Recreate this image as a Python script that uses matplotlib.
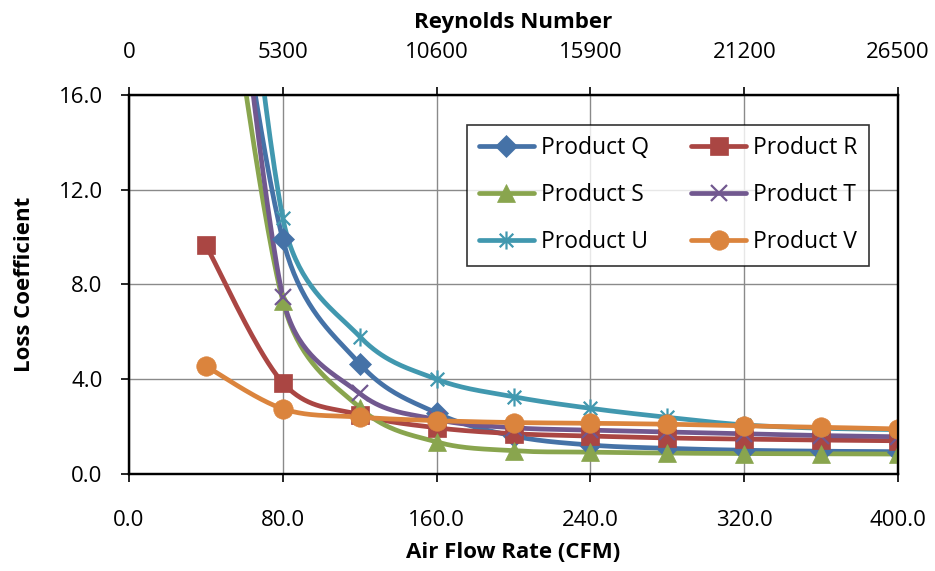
import numpy as np
import matplotlib
matplotlib.use("Agg")
import matplotlib.pyplot as plt
from matplotlib.path import Path
from matplotlib.ticker import FormatStrFormatter

plt.rcParams['font.family'] = ['Open Sans', 'DejaVu Sans']

# Air flow rate (CFM) and loss coefficients per product
flow = [40, 80, 120, 160, 200, 240, 280, 320, 360, 400]
product_q = [30.0, 9.9, 4.65, 2.57, 1.6, 1.22, 1.08, 1.0, 0.96, 0.94]
product_r = [9.65, 3.85, 2.5, 1.95, 1.7, 1.6, 1.52, 1.47, 1.43, 1.4]
product_s = [28.0, 7.3, 2.8, 1.35, 0.98, 0.92, 0.88, 0.86, 0.85, 0.84]
product_t = [34.0, 7.45, 3.4, 2.3, 1.95, 1.85, 1.77, 1.69, 1.62, 1.57]
product_u = [39.0, 10.8, 5.8, 4.0, 3.26, 2.77, 2.39, 2.07, 1.93, 1.87]
product_v = [4.55, 2.75, 2.4, 2.25, 2.17, 2.14, 2.1, 2.03, 1.97, 1.9]

series_names = ["Product Q", "Product R", "Product S", "Product T", "Product U", "Product V"]
x_ticks = [0, 80, 160, 240, 320, 400]
y_ticks = [0, 4, 8, 12, 16]
reynolds_ticks = [0, 5300, 10600, 15900, 21200, 26500]

colors = ["#4572A7", "#AA4643", "#89A54E", "#71588F", "#4198AF", "#DB843D"]

# asterisk marker: vertical stroke plus two diagonals
_d = 0.75
asterisk = Path([(0, -1), (0, 1), (-_d, -_d), (_d, _d), (-_d, _d), (_d, -_d)],
                [Path.MOVETO, Path.LINETO, Path.MOVETO, Path.LINETO,
                 Path.MOVETO, Path.LINETO])
markers = ["D", "s", "^", "x", asterisk, "o"]
msizes = [11, 13, 13, 12, 13, 14]

FS = 16


def smooth_curve(ax, xs, ys, n=40, tension=1.0 / 6.0):
    """Smoothed Bezier path through the points, built in display space."""
    P = ax.transData.transform(np.column_stack([xs, ys]).astype(float))
    out = []
    t = np.linspace(0, 1, n)[:, None]
    for i in range(len(P) - 1):
        p0 = P[i - 1] if i > 0 else P[i]
        p1, p2 = P[i], P[i + 1]
        p3 = P[i + 2] if i + 2 < len(P) else P[i + 1]
        d12 = np.hypot(*(p2 - p1))
        d02 = np.hypot(*(p2 - p0))
        d13 = np.hypot(*(p3 - p1))
        f1 = tension if d02 * tension < d12 / 2 else d12 / (2 * d02)
        f2 = tension if d13 * tension < d12 / 2 else d12 / (2 * d13)
        c1 = p1 + (p2 - p0) * f1
        c2 = p2 - (p3 - p1) * f2
        seg = ((1 - t) ** 3) * p1 + 3 * ((1 - t) ** 2) * t * c1 \
            + 3 * (1 - t) * t ** 2 * c2 + t ** 3 * p2
        out.append(seg if i == 0 else seg[1:])
    pts = ax.transData.inverted().transform(np.vstack(out))
    return pts[:, 0], pts[:, 1]


fig = plt.figure(figsize=(9.35, 5.71), dpi=100)
ax = fig.add_axes([0.138, 0.170, 0.8225, 0.6636])
ax.set_xlim(0, 400)
ax.set_ylim(0, 16)

all_series = [product_q, product_r, product_s, product_t, product_u, product_v]
handles = []
for name, ys, c, m, ms in zip(series_names, all_series, colors, markers, msizes):
    sx, sy = smooth_curve(ax, flow, ys)
    ax.plot(sx, sy, color=c, lw=3.4, solid_capstyle="round", zorder=3)
    mew = 1.6 if m in ("x",) or m is asterisk else 0.5
    ax.plot(flow, ys, ls="none", marker=m, ms=ms, color=c, mec=c, mew=mew, zorder=4)
    h, = ax.plot([], [], color=c, lw=3.4, marker=m, ms=ms, mec=c, mew=mew,
                 solid_capstyle="round")
    handles.append(h)

ax.set_xticks(x_ticks)
ax.set_yticks(y_ticks)
ax.xaxis.set_major_formatter(FormatStrFormatter("%.1f"))
ax.yaxis.set_major_formatter(FormatStrFormatter("%.1f"))
ax.grid(True, color="#8a8a8a", lw=1.0, zorder=0)
ax.set_axisbelow(True)
for sp in ax.spines.values():
    sp.set_color("black")
    sp.set_linewidth(1.6)
ax.tick_params(axis="both", direction="out", length=6, width=1.2,
               labelsize=FS, colors="black")
ax.tick_params(axis="x", pad=20)
ax.tick_params(axis="y", pad=13)
ax.set_xlabel("Air Flow Rate (CFM)", fontsize=FS, fontweight="bold", labelpad=8)
ax.set_ylabel("Loss Coefficient", fontsize=FS, fontweight="bold", labelpad=17)

top = ax.twiny()
top.set_xlim(0, 26500)
top.set_xticks(reynolds_ticks)
top.set_xticklabels([str(v) for v in reynolds_ticks])
top.tick_params(axis="x", direction="out", length=6, width=1.2,
                labelsize=FS, pad=17)
top.set_xlabel("Reynolds Number", fontsize=FS, fontweight="bold", labelpad=10)
for sp in top.spines.values():
    sp.set_linewidth(1.6)

# legend entries laid out row by row: Q R / S T / U V
order = [0, 2, 4, 1, 3, 5]
leg = ax.legend([handles[i] for i in order], [series_names[i] for i in order],
                ncol=2, loc="upper left", bbox_to_anchor=(0.44, 0.921),
                fontsize=16.5, frameon=True, fancybox=False, edgecolor="black",
                handlelength=2.4, columnspacing=1.85, handletextpad=0.3,
                labelspacing=1.0, borderpad=0.5, borderaxespad=0)
leg.get_frame().set_linewidth(1.2)
leg.set_zorder(6)

fig.savefig("out.png", dpi=100)
